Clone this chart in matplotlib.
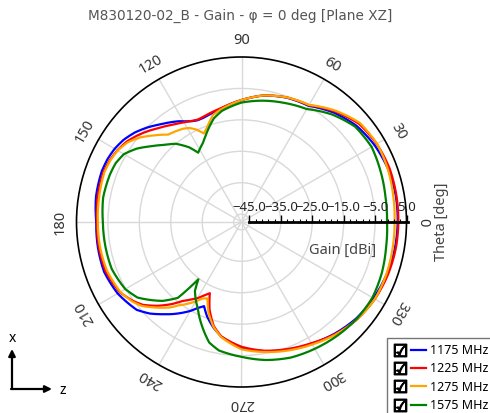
import numpy as np
import matplotlib
matplotlib.use('Agg')
import matplotlib.pyplot as plt
from matplotlib.lines import Line2D
from matplotlib.legend_handler import HandlerTuple

plt.rcParams['font.family'] = ['Noto Sans', 'DejaVu Sans']

# Gain [dBi] vs theta [deg]
theta_deg = [0, 10, 20, 30, 40, 50, 60, 70, 80, 90,
             100, 105, 110, 113, 116, 119, 122, 125, 130,
             135, 140, 145, 150, 155, 160, 170, 180, 190, 200, 210,
             216, 220, 225, 230, 233, 236, 240, 243, 246, 250, 255, 260,
             270, 280, 290, 300, 310, 320, 330, 340, 350, 360]

gain_1175 = [2.2, 2.3, 2.1, 1.4, 0.2, -2.0, -4.8, -5.4, -6.6, -8.7,
             -10.8, -11.6, -12.2, -12.3, -11.8, -10.9, -9.7, -8.7, -7.0,
             -5.0, -3.2, -1.8, -0.9, -0.4, -0.2, -0.5, -1.3, -1.1, -1.0, -2.0,
             -3.2, -4.0, -6.3, -9.2, -10.8, -12.5, -14.8, -16.8, -18.2, -15.5, -12.8, -10.5,
             -7.5, -5.8, -4.3, -2.8, -1.2, 0.2, 1.0, 1.6, 2.0, 2.2]

gain_1225 = [2.4, 2.5, 2.6, 2.2, 1.2, -1.5, -4.6, -5.3, -6.6, -8.7,
             -10.7, -11.3, -11.9, -12.1, -11.7, -11.1, -10.4, -9.6, -8.1,
             -6.3, -4.5, -2.9, -1.9, -1.2, -0.8, -1.0, -1.5, -1.4, -1.5, -2.8,
             -4.8, -6.5, -9.8, -13.5, -16.0, -17.6, -19.5, -21.3, -22.7, -17.8, -13.3, -10.5,
             -7.8, -5.9, -4.5, -3.0, -1.0, 0.6, 1.5, 2.0, 2.3, 2.4]

gain_1275 = [1.2, 1.5, 2.0, 2.3, 1.6, -1.2, -4.5, -5.3, -6.6, -8.7,
             -11.0, -12.3, -15.5, -16.9, -14.8, -13.3, -12.5, -12.0, -11.2,
             -8.5, -5.6, -3.3, -2.0, -1.4, -1.1, -1.5, -1.8, -1.8, -2.0, -3.0,
             -4.5, -6.0, -9.0, -12.0, -14.3, -16.0, -18.3, -20.2, -20.9, -16.8, -13.0, -10.3,
             -7.0, -5.5, -4.0, -2.5, -0.8, 0.6, 1.5, 1.5, 1.3, 1.2]

gain_1575 = [-1.2, -1.0, -0.4, 0.3, -0.3, -2.8, -6.0, -7.2, -8.3, -9.5,
             -11.6, -13.4, -16.3, -18.0, -19.5, -20.5, -21.5, -18.5, -15.0,
             -12.8, -10.0, -6.8, -4.3, -3.3, -3.0, -2.8, -3.4, -3.5, -3.6, -4.8,
             -6.6, -9.0, -12.0, -16.0, -24.7, -21.0, -18.5, -16.8, -14.5, -11.5, -7.8, -6.0,
             -4.6, -2.9, -1.6, -0.9, -0.2, 0.4, 0.6, 0.0, -0.8, -1.2]

labels = ['1175 MHz', '1225 MHz', '1275 MHz', '1575 MHz']
colors = ['#0000ff', '#ff0000', '#ffa500', '#008000']
gains = [gain_1175, gain_1225, gain_1275, gain_1575]

W, H = 490, 413
fig = plt.figure(figsize=(W / 100, H / 100), dpi=100)

# polar area geometry (pixels)
cx, cy, R = 241.5, 222, 165
r_min, r_max = -47.5, 5

ax = fig.add_axes([(cx - R) / W, (H - cy - R) / H, 2 * R / W, 2 * R / H],
                  projection='polar')
ax.set_ylim(r_min, r_max)
ax.set_yticks(np.arange(-45, 5, 10))
ax.set_yticklabels([])
ax.set_xticks(np.deg2rad(np.arange(0, 360, 30)))
ax.set_xticklabels([])
ax.grid(True, color='#d9d9d9', linewidth=1)
ax.spines['polar'].set_color('black')
ax.spines['polar'].set_linewidth(1.2)
ax.tick_params(axis='x', direction='inout', length=6, width=1.2, color='black')

th = np.deg2rad(theta_deg)
lines = []
for g, c, lab in zip(gains, colors, labels):
    ln, = ax.plot(th, g, color=c, linewidth=1.6, label=lab)
    lines.append(ln)

# angle labels, rotated tangentially
for d in range(0, 360, 30):
    ax.text(np.deg2rad(d), 10.2, str(d), rotation=d - 90, rotation_mode='anchor',
            ha='center', va='center', fontsize=10.5, color='#333333')

# gain scale along theta = 0
rax = fig.add_axes([cx / W, (H - cy) / H, R / W, 1e-4])
rax.set_xlim(r_min, r_max)
rax.patch.set_visible(False)
for s in ['left', 'right', 'bottom']:
    rax.spines[s].set_visible(False)
rax.spines['top'].set_linewidth(2)
rax.spines['top'].set_bounds(-45, 5.5)
rax.set_yticks([])
rax.xaxis.set_ticks_position('top')
rax.set_xticks(np.arange(-45, 6, 10))
rax.set_xticks(np.arange(-45, 6, 2), minor=True)
rax.xaxis.set_major_formatter('{x:.1f}')
rax.tick_params(axis='x', which='major', direction='out', length=5, width=1,
                labelsize=9.5, pad=1, labelcolor='#222222')
rax.tick_params(axis='x', which='minor', direction='out', length=2.5, width=0.8)

fig.text(343 / W, 1 - 250 / H, 'Gain [dBi]', ha='center', va='center',
         fontsize=10.5, color='#444444')
fig.text(441 / W, 1 - 222 / H, 'Theta [deg]', ha='center', va='center',
         rotation=90, fontsize=10.5, color='#444444')
fig.text(240 / W, 1 - 16 / H, 'M830120-02_B - Gain - φ = 0 deg [Plane XZ]',
         ha='center', va='center', fontsize=9.8, color='#555555',
         family=['DejaVu Sans'])

# legend with check boxes
box = Line2D([], [], marker='$\u2611$', color='black', linestyle='none', markersize=9)
fig.legend([(box, ln) for ln in lines], labels,
           handler_map={tuple: HandlerTuple(ndivide=2, pad=0.3)},
           loc='upper left', bbox_to_anchor=(387 / W, 1 - 338 / H),
           frameon=True, fancybox=False, edgecolor='#777777', framealpha=1,
           fontsize=9, handlelength=2.6, borderaxespad=0, labelspacing=0.42,
           handletextpad=0.3, borderpad=0.5)

# coordinate system sketch
arrow = dict(arrowstyle='-|>', lw=1.6, color='black', shrinkA=0, shrinkB=0)
ax.annotate('', xy=(12, H - 349), xytext=(12, H - 389), xycoords='figure pixels',
            textcoords='figure pixels', arrowprops=arrow, annotation_clip=False)
ax.annotate('', xy=(52, H - 389), xytext=(11, H - 389), xycoords='figure pixels',
            textcoords='figure pixels', arrowprops=arrow, annotation_clip=False)
fig.text(12 / W, 1 - 338 / H, 'x', ha='center', va='center', fontsize=10, fontweight='bold')
fig.text(63 / W, 1 - 390 / H, 'z', ha='center', va='center', fontsize=10, fontweight='bold')

# let the polar transform draw each segment along theta instead of as a chord
for ln in lines:
    ln.get_path()._interpolation_steps = 16

fig.savefig('out.png', dpi=100)
